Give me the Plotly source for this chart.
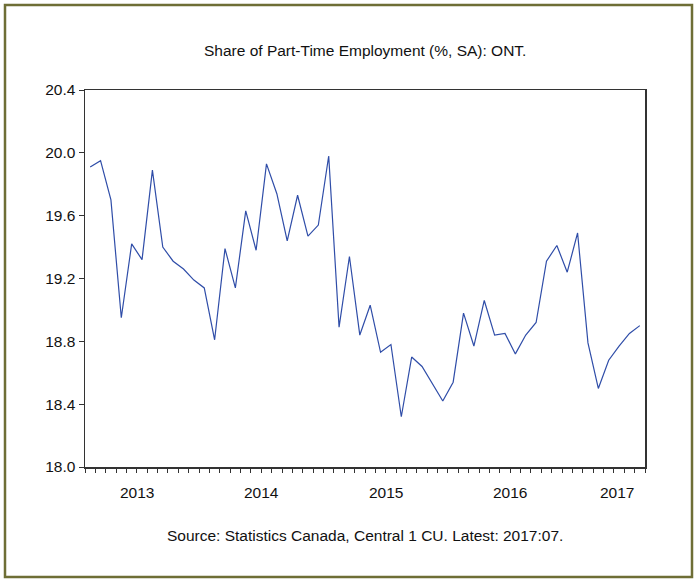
import plotly.graph_objects as go

# Monthly data, Feb 2013 .. Jul 2017
months = [f"{y}-{m:02d}" for y in range(2013, 2018) for m in range(1, 13)]
months = months[1:months.index("2017-07") + 1]
share = [19.91, 19.95, 19.70, 18.95, 19.42, 19.32, 19.89, 19.40, 19.31, 19.26,
         19.19, 19.14, 18.81, 19.39, 19.14, 19.63, 19.38, 19.93, 19.74, 19.44,
         19.73, 19.47, 19.54, 19.98, 18.89, 19.34, 18.84, 19.03, 18.73, 18.78,
         18.32, 18.70, 18.64, 18.53, 18.42, 18.54, 18.98, 18.77, 19.06, 18.84,
         18.85, 18.72, 18.84, 18.92, 19.31, 19.41, 19.24, 19.49, 18.79, 18.50,
         18.68, 18.77, 18.85, 18.90]
years = ["2013", "2014", "2015", "2016", "2017"]
y_ticks = [18.0, 18.4, 18.8, 19.2, 19.6, 20.0, 20.4]

idx = list(range(len(months)))
n = len(months)

year_start = {}
for i, m in enumerate(months):
    year_start.setdefault(m[:4], i)
# labels sit at mid-year (Jul 1 boundary), kept inside the axis
year_centers = []
for y in years:
    jul = f"{y}-07"
    pos = months.index(jul) - 0.5 if jul in months else n - 0.5
    year_centers.append(min(pos, n - 0.5 - 2.7))
year_bounds = [year_start[y] - 0.5 for y in years[1:]]
month_bounds = [i - 0.5 for i in range(n + 1)]

FONT = "Liberation Sans, Arial, sans-serif"
FS = 15.5

fig = go.Figure()
fig.add_trace(go.Scatter(x=idx, y=share, mode="lines",
                         line=dict(color="#2F4DA8", width=1.2),
                         hoverinfo="skip", showlegend=False))

fig.update_layout(
    width=694, height=581,
    margin=dict(l=85, r=49, t=90, b=114),
    paper_bgcolor="white", plot_bgcolor="white",
    font=dict(family=FONT, size=FS, color="#111"),
    xaxis=dict(range=[-0.5, n - 0.5], showgrid=False, zeroline=False,
               showline=True, linecolor="#333", linewidth=1.5, mirror=True,
               tickvals=year_bounds, ticktext=[""] * len(year_bounds),
               ticks="outside", ticklen=7, tickcolor="#333", tickwidth=1,
               minor=dict(tickvals=month_bounds, ticks="outside", ticklen=4,
                          tickcolor="#333", tickwidth=1, showgrid=False)),
    yaxis=dict(range=[18.0, 20.4], showgrid=False, zeroline=False,
               showline=True, linecolor="#333", linewidth=1.5, mirror=True,
               tickvals=y_ticks, ticktext=[f"{v:.1f}" for v in y_ticks],
               ticks="outside", ticklen=5, tickcolor="#333",
               tickfont=dict(size=FS, family=FONT)),
)

for c, yr in zip(year_centers, years):
    fig.add_annotation(x=c, y=0, xref="x", yref="paper", text=yr,
                       showarrow=False, yanchor="middle", yshift=-25,
                       font=dict(size=FS, family=FONT))

fig.add_annotation(x=0.5, y=(467 - 50) / 377, xref="paper", yref="paper",
                   text="Share of Part-Time Employment (%, SA): ONT.",
                   showarrow=False, yanchor="middle",
                   font=dict(size=FS, family=FONT))
fig.add_annotation(x=0.5, y=(467 - 535) / 377, xref="paper", yref="paper",
                   text="Source: Statistics Canada, Central 1 CU. Latest: 2017:07.",
                   showarrow=False, yanchor="middle",
                   font=dict(size=FS, family=FONT))

# outer frame
fig.add_shape(type="rect", xref="paper", yref="paper",
              x0=(5 - 85) / 560, x1=(692 - 85) / 560,
              y0=(467 - 577) / 377, y1=(467 - 5) / 377,
              line=dict(color="#6E6E35", width=2.5), layer="below")

fig.write_html("out.html",
               config={"displayModeBar": False, "staticPlot": True},
               post_script="document.body.style.margin='0';"
                           "document.body.style.overflow='hidden';")
